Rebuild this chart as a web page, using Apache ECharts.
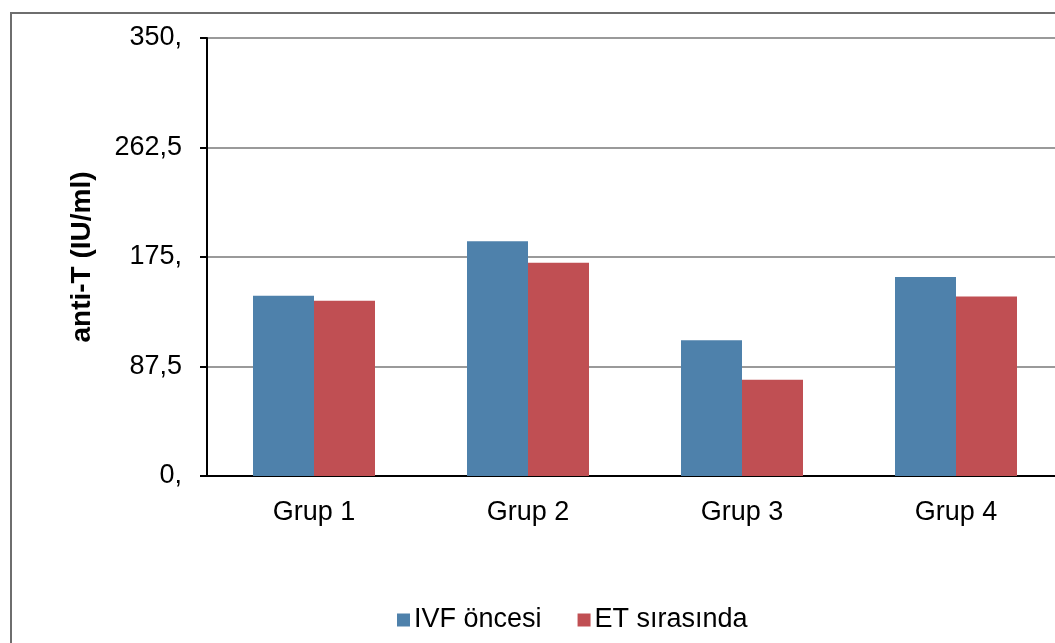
<!DOCTYPE html>
<html>
<head>
<meta charset="utf-8">
<script src="https://cdn.jsdelivr.net/npm/echarts@6/dist/echarts.min.js"></script>
<style>
  html, body { margin: 0; padding: 0; background: #fff; overflow: hidden; }
  /* plot area runs a little past the right edge of the window, as in the original */
  #chart { width: 1063px; height: 643px; }
</style>
</head>
<body>
<div id="chart"></div>
<script>
const groups = ["Grup 1", "Grup 2", "Grup 3", "Grup 4"];
const ivfOncesi = [144, 187.5, 108.5, 159];
const etSirasinda = [140, 170.5, 77, 143.5];
const yTicks = [0, 87.5, 175, 262.5, 350];
const yTickLabels = ["0,", "87,5", "175,", "262,5", "350,"];

const chart = echarts.init(document.getElementById("chart"), null, { renderer: "canvas" });
const font = "Liberation Sans, Arial, sans-serif";

chart.setOption({
  animation: false,
  backgroundColor: "#fff",
  graphic: [
    {
      // outer frame of the chart area
      type: "rect",
      shape: { x: 11, y: 13, width: 1100, height: 700 },
      style: { fill: "none", stroke: "#6e6e6e", lineWidth: 2 },
      z: 100
    }
  ],
  grid: { left: 207, right: 0, top: 38, bottom: 167, containLabel: false },
  legend: {
    top: 600,
    left: 392,
    itemWidth: 13,
    itemHeight: 13,
    itemGap: 36,
    icon: "rect",
    textStyle: { fontFamily: font, fontSize: 27, color: "#000", lineHeight: 30, padding: [0, 0, 0, -1] },
    data: ["IVF öncesi", "ET sırasında"]
  },
  xAxis: {
    type: "category",
    data: groups,
    axisLine: { lineStyle: { color: "#000", width: 2 } },
    axisTick: { show: false },
    axisLabel: { fontFamily: font, fontSize: 27, color: "#000", margin: 23 }
  },
  yAxis: {
    type: "value",
    min: yTicks[0],
    max: yTicks[yTicks.length - 1],
    interval: yTicks[1] - yTicks[0],
    name: "anti-T (IU/ml)",
    nameLocation: "middle",
    nameGap: 111,
    nameRotate: 90,
    nameTextStyle: { fontFamily: font, fontSize: 28, fontWeight: "bold", color: "#000" },
    axisLine: { show: true, lineStyle: { color: "#000", width: 2 } },
    axisTick: { show: true, length: 7, lineStyle: { color: "#000", width: 2 } },
    splitLine: { lineStyle: { color: "#9a9a9a", width: 2 } },
    axisLabel: {
      fontFamily: font,
      fontSize: 27,
      color: "#000",
      margin: 25,
      formatter: v => yTickLabels[yTicks.indexOf(v)] ?? String(v)
    }
  },
  series: [
    {
      name: "IVF öncesi",
      type: "bar",
      data: ivfOncesi,
      barWidth: 61,
      barGap: "0%",
      itemStyle: { color: "#4e81ab" }
    },
    {
      name: "ET sırasında",
      type: "bar",
      data: etSirasinda,
      barWidth: 61,
      barGap: "0%",
      itemStyle: { color: "#c04f53" }
    }
  ]
});
</script>
</body>
</html>
